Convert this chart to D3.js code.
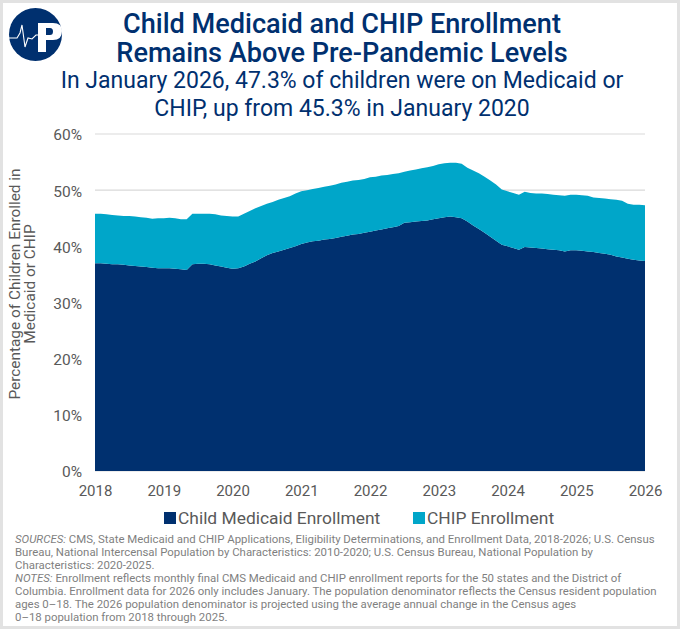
<!DOCTYPE html>
<html><head><meta charset="utf-8">
<script src="https://cdn.jsdelivr.net/npm/d3@7"></script>
<style>html,body{margin:0;padding:0;background:#fff}svg{display:block}text{font-family:Roboto,sans-serif}</style>
</head><body><svg id="c" width="680" height="629"></svg>
<script>
const yearLabels = ["2018","2019","2020","2021","2022","2023","2024","2025","2026"];
const yTicks = [0,10,20,30,40,50,60];
const seriesNames = ["Child Medicaid Enrollment","CHIP Enrollment"];
const seriesColors = ["#00306f","#00a6c9"];
const medicaid = [37.0,37.0,36.9,36.8,36.8,36.7,36.6,36.5,36.4,36.3,36.2,36.1,36.1,36.1,36.0,35.9,35.8,36.8,36.9,36.9,36.8,36.6,36.4,36.2,36.0,36.1,36.4,36.9,37.3,37.9,38.4,38.8,39.1,39.4,39.7,40.0,40.4,40.7,40.9,41.0,41.2,41.3,41.5,41.7,41.9,42.1,42.2,42.4,42.6,42.8,43.0,43.2,43.4,43.6,44.2,44.3,44.4,44.5,44.6,44.8,45.0,45.2,45.3,45.2,45.0,44.4,43.7,43.1,42.4,41.7,41.0,40.3,40.0,39.7,39.4,39.9,39.8,39.7,39.6,39.5,39.4,39.3,39.1,39.3,39.3,39.2,39.1,39.0,38.8,38.7,38.5,38.2,38.0,37.8,37.6,37.5,37.4];
const chip = [8.8,8.8,8.8,8.8,8.7,8.7,8.8,8.8,8.8,8.8,8.7,8.9,8.9,9.0,9.0,8.9,9.0,9.0,8.9,8.9,9.0,9.1,9.1,9.2,9.3,9.2,9.4,9.4,9.5,9.3,9.2,9.1,9.2,9.2,9.2,9.4,9.4,9.3,9.3,9.4,9.4,9.5,9.5,9.6,9.6,9.6,9.6,9.6,9.7,9.6,9.6,9.5,9.5,9.4,9.1,9.2,9.3,9.4,9.5,9.5,9.6,9.6,9.6,9.7,9.7,9.6,9.8,9.9,10.0,10.0,10.0,9.8,9.8,9.8,9.8,9.8,9.7,9.7,9.8,9.8,9.8,9.8,9.9,9.9,9.9,9.9,9.9,9.7,9.8,9.8,9.9,10.1,10.1,9.8,9.8,9.9,9.9];
const titleLines = ["Child Medicaid and CHIP Enrollment","Remains Above Pre-Pandemic Levels"];
const subtitleLines = ["In January 2026, 47.3% of children were on Medicaid or","CHIP, up from 45.3% in January 2020"];
const yAxisLines = ["Percentage of Children Enrolled in","Medicaid or CHIP"];
const notes = [
 [["SOURCES:",1],[" CMS, State Medicaid and CHIP Applications, Eligibility Determinations, and Enrollment Data, 2018-2026; U.S. Census",0]],
 [["Bureau, National Intercensal Population by Characteristics: 2010-2020; U.S. Census Bureau, National Population by",0]],
 [["Characteristics: 2020-2025.",0]],
 [["NOTES:",1],[" Enrollment reflects monthly final CMS Medicaid and CHIP enrollment reports for the 50 states and the District of",0]],
 [["Columbia. Enrollment data for 2026 only includes January. The population denominator reflects the Census resident population",0]],
 [["ages 0\u201318. The 2026 population denominator is projected using the average annual change in the Census ages",0]],
 [["0\u201318 population from 2018 through 2025.",0]]
];

const svg = d3.select("#c");
svg.append("rect").attr("x",1.5).attr("y",1.5).attr("width",677).attr("height",626).attr("fill","#fff").attr("stroke","#e2e2e2").attr("stroke-width",3);

const x = d3.scaleLinear().domain([0,96]).range([95,645]);
const y = d3.scaleLinear().domain([0,60]).range([471,134]);

// logo
const logo = svg.append("g");
logo.append("circle").attr("cx",35.5).attr("cy",34.5).attr("r",26.5).attr("fill","#00306f");
logo.append("path").attr("fill-rule","evenodd").attr("fill","#fff")
 .attr("d","M38 23H53Q62 23 62 31Q62 40 53 40H46V52H38ZM46 28V35H50Q53 35 53 31.5Q53 28 50 28Z");
logo.append("path").attr("fill","none").attr("stroke","#fff").attr("stroke-width",1.1)
 .attr("d","M9 38H17L20 33L22 25L25 47L28 38L32 39L36 35H38");

// grid
svg.append("g").selectAll("line").data(yTicks).join("line")
 .attr("x1",95).attr("x2",645).attr("y1",d=>y(d)).attr("y2",d=>y(d))
 .attr("stroke","#d9d9d9").attr("stroke-width",1.2);

// stack
const rows = medicaid.map((m,i)=>({i,m,c:chip[i]}));
const layers = d3.stack().keys(["m","c"])(rows);
const area = d3.area().x(d=>x(d.data.i)).y0(d=>y(d[0])).y1(d=>y(d[1]));
svg.append("g").selectAll("path").data(layers).join("path")
 .attr("d",area).attr("fill",(d,i)=>seriesColors[i]);

// y axis
svg.append("g").attr("transform","translate(82,1)")
 .call(d3.axisLeft(y).tickValues(yTicks).tickFormat(d=>d+"%").tickSize(0).tickPadding(0))
 .call(g=>g.select(".domain").remove())
 .selectAll("text").attr("fill","#595959").style("font-size","15.5px").style("font-family","Roboto,sans-serif");
// x axis
const xYears = d3.scalePoint().domain(yearLabels).range([95,645]);
svg.append("g").attr("transform","translate(0,485)")
 .call(d3.axisBottom(xYears).tickSize(0).tickPadding(0))
 .call(g=>g.select(".domain").remove())
 .selectAll("text").attr("fill","#595959").style("font-size","15px").style("font-family","Roboto,sans-serif");

// titles
svg.append("g").selectAll("text").data(titleLines).join("text")
 .attr("x",342).attr("y",(d,i)=>33+i*29).attr("text-anchor","middle")
 .attr("fill","#00306f").attr("font-size",27.1).attr("font-weight",500).text(d=>d);
svg.append("g").selectAll("text").data(subtitleLines).join("text")
 .attr("x",342).attr("y",(d,i)=>88+i*28).attr("text-anchor","middle")
 .attr("fill","#00306f").attr("font-size",23).text(d=>d);

// y title
svg.append("g").selectAll("text").data(yAxisLines).join("text")
 .attr("transform",(d,i)=>`translate(${20+i*15},284) rotate(-90)`).attr("text-anchor","middle")
 .attr("fill","#595959").attr("font-size",15.4).text(d=>d);

// legend
const lx = [164,413];
const lg = svg.append("g").selectAll("g").data(seriesNames).join("g").attr("transform",(d,i)=>`translate(${lx[i]},512)`);
lg.append("rect").attr("width",12).attr("height",12).attr("fill",(d,i)=>seriesColors[i]);
lg.append("text").attr("x",14).attr("y",12).attr("fill","#595959").attr("font-size",17.4).text(d=>d);

// notes
const nt = svg.append("g").selectAll("text").data(notes).join("text")
 .attr("x",15).attr("y",(d,i)=>543+i*13).attr("fill","#7f7f7f").attr("font-size",11.42);
nt.selectAll("tspan").data(d=>d).join("tspan").attr("font-style",d=>d[1]?"italic":"normal").text(d=>d[0]);
</script></body></html>
